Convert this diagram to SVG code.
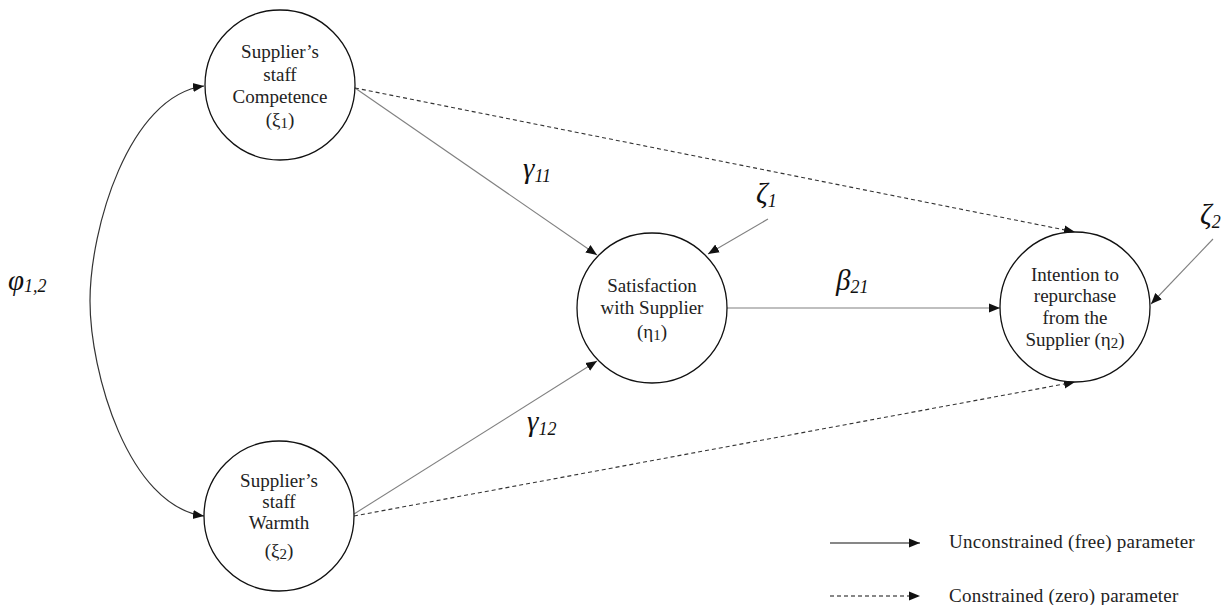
<svg xmlns="http://www.w3.org/2000/svg" width="1225" height="605" viewBox="0 0 1225 605">
<style>
.node{fill:#fff;stroke:#111;stroke-width:1.3}
.lbl{font-family:"Liberation Serif",serif;font-size:19px;fill:#222;text-anchor:middle}
.leg{font-family:"Liberation Serif",serif;font-size:19px;fill:#222;letter-spacing:0.25px}
.gk{font-family:"Liberation Serif",serif;font-style:italic;font-size:29px;fill:#111}
.sub{font-size:18px}
.csub{font-size:15px}
.solid{fill:none;stroke:#808080;stroke-width:1.1;marker-end:url(#ah)}
.dash{fill:none;stroke:#333;stroke-width:1.1;stroke-dasharray:4 3;marker-end:url(#ah)}
.legs{fill:none;stroke:#111;stroke-width:1.1;marker-end:url(#ah)}
.arc{fill:none;stroke:#333;stroke-width:1.2;marker-start:url(#ah);marker-end:url(#ah)}
</style>
<defs>
<marker id="ah" markerUnits="userSpaceOnUse" markerWidth="12" markerHeight="10" refX="11" refY="4.5" orient="auto-start-reverse" viewBox="0 0 12 9">
<path d="M0,0 L11,4.5 L0,9 z" fill="#111"/>
</marker>
</defs>
<rect width="1225" height="605" fill="#fff"/>
<g id="connectors">
<path class="arc" d="M204,86 C128,96 90,230 90,301 C90,372 128,506 204,516"/>
<line class="solid" x1="355" y1="88" x2="597" y2="255"/>
<line class="dash" x1="355" y1="88" x2="1075" y2="232"/>
<line class="solid" x1="768" y1="219" x2="708" y2="254"/>
<line class="solid" x1="727" y1="308" x2="1000" y2="308"/>
<line class="solid" x1="354" y1="514" x2="597" y2="361"/>
<line class="dash" x1="354" y1="516" x2="1075" y2="382"/>
<line class="solid" x1="1213" y1="239" x2="1151" y2="304"/>
<line class="legs" x1="830" y1="543" x2="920" y2="543"/>
<line class="dash" x1="830" y1="596" x2="920" y2="596" style="stroke:#111"/>
</g>
<g id="competence">
<circle class="node" cx="280" cy="85" r="75"/>
<text class="lbl" x="280" y="58">Supplier’s</text>
<text class="lbl" x="280" y="81">staff</text>
<text class="lbl" x="280" y="103">Competence</text>
<text class="lbl" x="280" y="126">(ξ<tspan class="csub" dy="2">1</tspan><tspan dy="-2">)</tspan></text>
</g>
<g id="warmth">
<circle class="node" cx="279" cy="516" r="75"/>
<text class="lbl" x="279" y="487">Supplier’s</text>
<text class="lbl" x="279" y="508">staff</text>
<text class="lbl" x="279" y="529">Warmth</text>
<text class="lbl" x="279" y="557">(ξ<tspan class="csub" dy="2">2</tspan><tspan dy="-2">)</tspan></text>
</g>
<g id="satisfaction">
<circle class="node" cx="652" cy="308" r="75"/>
<text class="lbl" x="652" y="292">Satisfaction</text>
<text class="lbl" x="652" y="314">with Supplier</text>
<text class="lbl" x="652" y="338">(η<tspan class="csub" dy="2">1</tspan><tspan dy="-2">)</tspan></text>
</g>
<g id="intention">
<circle class="node" cx="1075" cy="307" r="75"/>
<text class="lbl" x="1075" y="281">Intention to</text>
<text class="lbl" x="1075" y="302">repurchase</text>
<text class="lbl" x="1075" y="324">from the</text>
<text class="lbl" x="1075" y="346">Supplier (η<tspan class="csub" dy="2">2</tspan><tspan dy="-2">)</tspan></text>
</g>
<g id="labels">
<text class="gk" x="8" y="290">φ<tspan class="sub" dy="2">1,2</tspan></text>
<text class="gk" x="523" y="178">γ<tspan class="sub" dy="4">11</tspan></text>
<text class="gk" x="527" y="431">γ<tspan class="sub" dy="4">12</tspan></text>
<text class="gk" x="756" y="203">ζ<tspan class="sub" dy="4">1</tspan></text>
<text class="gk" x="1200" y="224">ζ<tspan class="sub" dy="4">2</tspan></text>
<text class="gk" x="836" y="290">β<tspan class="sub" dy="3">21</tspan></text>
</g>
<g id="legend">
<text class="leg" x="949" y="548">Unconstrained (free) parameter</text>
<text class="leg" x="949" y="602">Constrained (zero) parameter</text>
</g>
</svg>
